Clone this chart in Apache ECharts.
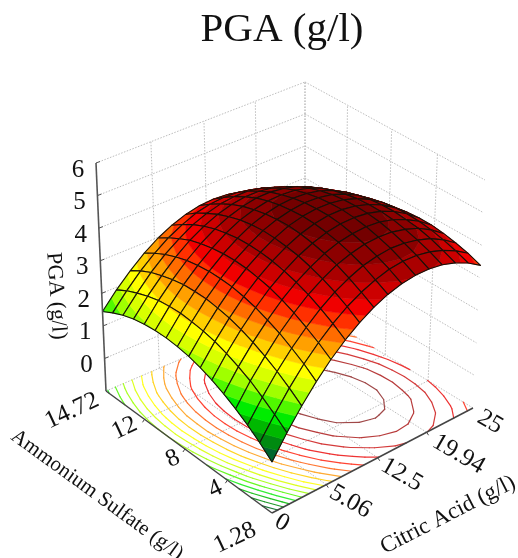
<!DOCTYPE html>
<html><head><meta charset="utf-8">
<style>html,body{margin:0;padding:0;background:#fff}#c{width:518px;height:558px}</style>
<script src="https://cdn.jsdelivr.net/npm/echarts@6/dist/echarts.min.js"></script>
</head><body><div id="c"></div>
<script>
const titleText = 'PGA (g/l)';
const zTitle = 'PGA (g/l)';
const xTitle = 'Citric Acid (g/l)';
const yTitle = 'Ammonium Sulfate (g/l)';
const citricTicks = ['0','5.06','12.5','19.94','25'];
const ammoniumTicks = ['1.28','4','8','12','14.72'];
const zTicks = [0,1,2,3,4,5,6];
const zMin = -1, zMax = 6;
// PGA read from the surface: rows = ammonium sulfate steps, columns = citric acid steps
const pga = [
[0.50,1.14,1.72,2.23,2.68,3.06,3.38,3.64,3.83,3.96,4.02,4.02,3.96,3.83,3.64,3.38],
[0.81,1.43,2.00,2.51,2.94,3.31,3.62,3.86,4.04,4.17,4.22,4.21,4.13,3.99,3.79,3.53],
[1.08,1.69,2.25,2.74,3.16,3.53,3.83,4.06,4.24,4.34,4.39,4.36,4.27,4.13,3.91,3.63],
[1.31,1.93,2.46,2.95,3.36,3.72,4.00,4.23,4.38,4.48,4.51,4.48,4.38,4.23,4.00,3.71],
[1.51,2.11,2.64,3.11,3.52,3.86,4.13,4.35,4.50,4.58,4.61,4.57,4.46,4.28,4.05,3.76],
[1.68,2.27,2.79,3.25,3.65,3.97,4.24,4.44,4.58,4.66,4.67,4.62,4.50,4.32,4.07,3.76],
[1.81,2.39,2.90,3.35,3.73,4.05,4.30,4.50,4.63,4.70,4.70,4.63,4.50,4.31,4.05,3.73],
[1.91,2.47,2.97,3.42,3.79,4.09,4.34,4.53,4.64,4.69,4.68,4.61,4.47,4.27,4.00,3.67],
[1.97,2.52,3.02,3.44,3.81,4.10,4.35,4.51,4.61,4.66,4.64,4.56,4.40,4.19,3.91,3.57],
[2.00,2.55,3.02,3.44,3.79,4.08,4.31,4.46,4.56,4.59,4.56,4.47,4.30,4.08,3.79,3.44],
[1.99,2.53,3.00,3.40,3.74,4.02,4.24,4.38,4.47,4.49,4.45,4.34,4.17,3.93,3.64,3.28],
[1.95,2.48,2.93,3.33,3.66,3.93,4.13,4.27,4.35,4.36,4.30,4.19,4.00,3.75,3.44,3.07],
[1.88,2.39,2.83,3.22,3.55,3.80,3.99,4.12,4.18,4.18,4.11,3.98,3.80,3.54,3.22,2.84],
[1.77,2.26,2.71,3.08,3.38,3.64,3.81,3.93,3.98,3.98,3.90,3.76,3.56,3.29,2.96,2.57],
[1.62,2.11,2.54,2.90,3.20,3.43,3.61,3.71,3.75,3.73,3.65,3.49,3.29,3.00,2.67,2.26],
[1.44,1.92,2.33,2.69,2.98,3.20,3.36,3.46,3.49,3.46,3.36,3.20,2.98,2.69,2.33,1.92]
];
const bandLevels = [0.75,1,1.25,1.5,1.75,2,2.25,2.5,2.75,3,3.25,3.5,3.75,4,4.25,4.5];
const bandColors = ['#00662e','#008a10','#00b800','#00ec00','#50f800','#a0ff00','#d8ff00','#ffff00','#ffd000','#ffa000','#ff6c00','#ff3000','#f00000','#cc0000','#aa0000','#8c0000','#740000'];

// view: screen corners of the plot box
const box = {
  F:[272,513], R:[473,408], L:[106,391], B:[305,306],
  Ft:[272,275], Rt:[485,180], Lt:[96,163], Bt:[305,82]
};
function quadMap(F,R,B,L){
  const dx1=R[0]-B[0],dy1=R[1]-B[1],dx2=L[0]-B[0],dy2=L[1]-B[1];
  const sx=F[0]-R[0]+B[0]-L[0],sy=F[1]-R[1]+B[1]-L[1];
  const det=dx1*dy2-dx2*dy1;
  const g=(sx*dy2-dx2*sy)/det,h=(dx1*sy-sx*dy1)/det;
  return (u,v)=>{
    const d=1+g*u+h*v;
    return [(F[0]+(R[0]-F[0]+g*R[0])*u+(L[0]-F[0]+h*L[0])*v)/d,
            (F[1]+(R[1]-F[1]+g*R[1])*u+(L[1]-F[1]+h*L[1])*v)/d];
  };
}
const floorMap=quadMap(box.F,box.R,box.B,box.L), topMap=quadMap(box.Ft,box.Rt,box.Bt,box.Lt);
function project(u,v,z){
  const w=(z-zMin)/(zMax-zMin);
  const a=floorMap(u,v),b=topMap(u,v);
  return [a[0]+(b[0]-a[0])*w,a[1]+(b[1]-a[1])*w];
}
const N=pga.length-1;
function bandOf(z){let k=0;while(k<bandLevels.length&&z>=bandLevels[k])k++;return k;}
function clip(poly,lo,hi){
  function cut(p,keep,lvl){
    const out=[];
    for(let a=0;a<p.length;a++){
      const P=p[a],Q=p[(a+1)%p.length],kp=keep(P[2]),kq=keep(Q[2]);
      if(kp)out.push(P);
      if(kp!==kq){const t=(lvl-P[2])/(Q[2]-P[2]);out.push([P[0]+(Q[0]-P[0])*t,P[1]+(Q[1]-P[1])*t,lvl]);}
    }
    return out;
  }
  let r=poly;
  if(lo>-Infinity)r=cut(r,z=>z>=lo,lo);
  if(r.length&&hi<Infinity)r=cut(r,z=>z<hi,hi);
  return r;
}
const cellItems=[];
for(let j=N-1;j>=0;j--)for(let i=N-1;i>=0;i--)cellItems.push([i,j]);
function renderCell(p,api){
  const i=api.value(0),j=api.value(1);
  const c=(ii,jj)=>[ii/N,jj/N,pga[jj][ii]];
  const poly=[c(i,j),c(i+1,j),c(i+1,j+1),c(i,j+1)];
  const kids=[];
  const zs=poly.map(q=>q[2]);
  const k0=bandOf(Math.min(...zs)),k1=bandOf(Math.max(...zs));
  const sc=q=>api.coord(project(q[0],q[1],q[2]));
  for(let k=k0;k<=k1;k++){
    const lo=k===0?-Infinity:bandLevels[k-1],hi=k===bandLevels.length?Infinity:bandLevels[k];
    const part=clip(poly,lo,hi);
    if(part.length<3)continue;
    kids.push({type:'polygon',shape:{points:part.map(sc)},style:{fill:bandColors[k],stroke:bandColors[k],lineWidth:0.6}});
  }
  kids.push({type:'polygon',shape:{points:poly.map(sc)},style:{fill:'none',stroke:'#161008',lineWidth:1.1,lineJoin:'round'}});
  return {type:'group',children:kids};
}
function contourSegs(level){
  const segs=[];
  for(let j=0;j<N;j++)for(let i=0;i<N;i++){
    const a=pga[j][i],b=pga[j][i+1],c=pga[j+1][i+1],d=pga[j+1][i];
    const pts=[];
    const e=(z0,z1,x0,y0,x1,y1)=>{if((z0<level)!==(z1<level)){const t=(level-z0)/(z1-z0);pts.push([(x0+(x1-x0)*t)/N,(y0+(y1-y0)*t)/N]);}};
    e(a,b,i,j,i+1,j);e(b,c,i+1,j,i+1,j+1);e(c,d,i+1,j+1,i,j+1);e(d,a,i,j+1,i,j);
    for(let q=0;q+1<pts.length;q+=2)segs.push([pts[q],pts[q+1]]);
  }
  return segs;
}
const floorColors=['#1d7a3a','#1f9a2a','#22c422','#33ee33','#66f822','#aaff22','#ddff22','#ffff22','#ffd422','#ffaa33','#ff7733','#ff4433','#ee3333','#d43b3b','#b83c3c','#a04848'];
function renderContour(p,api){
  const k=api.value(0);
  const col=floorColors[k];
  const segs=contourSegs(bandLevels[k]);
  return {type:'group',children:segs.map(s=>{
    const a=api.coord(project(s[0][0],s[0][1],zMin)),b=api.coord(project(s[1][0],s[1][1],zMin));
    return {type:'line',shape:{x1:a[0],y1:a[1],x2:b[0],y2:b[1]},style:{stroke:col,lineWidth:1.2,lineCap:'round'}};
  })};
}
function renderFrame(p,api){
  const kids=[];
  const dot=(a,b)=>{const A=api.coord(a),B=api.coord(b);kids.push({type:'line',shape:{x1:A[0],y1:A[1],x2:B[0],y2:B[1]},style:{stroke:'#bdbdbd',lineWidth:1,lineDash:[1.5,1.5]}});};
  zTicks.forEach(z=>{dot(project(0,1,z),project(1,1,z));dot(project(1,1,z),project(1,0,z));});
  for(let q=1;q<=4;q++){
    const t=q/4;
    dot(project(t,1,zMin),project(t,1,zMax));
    dot(project(1,t,zMin),project(1,t,zMax));
    if(q<4){dot(project(t,0,zMin),project(t,1,zMin));dot(project(0,t,zMin),project(1,t,zMin));}
  }
  dot(project(0,1,zMin),project(1,1,zMin));
  dot(project(1,1,zMin),project(1,0,zMin));
  return {type:'group',children:kids};
}
function renderAxes(p,api){
  const kids=[];
  const ln=(a,b,w,c)=>{const A=api.coord(a),B=api.coord(b);kids.push({type:'line',shape:{x1:A[0],y1:A[1],x2:B[0],y2:B[1]},style:{stroke:c,lineWidth:w}});};
  const tx=(s,at,rot,size)=>{const P=api.coord(at);kids.push({type:'text',x:P[0],y:P[1],rotation:rot*Math.PI/180,style:{text:s,font:size+'px "Liberation Serif"',fill:'#111',align:'center',verticalAlign:'middle'}});};
  ln(project(0,1,zMin),project(0,1,zMax),1.6,'#555');
  ln(project(0,0,zMin),project(0,1,zMin),1.5,'#444');
  ln(project(0,0,zMin),project(1,0,zMin),1.5,'#444');
  zTicks.forEach(z=>{const a=project(0,1,z);ln(a,[a[0]+4,a[1]-1.5],1,'#555');});
  for(let q=1;q<4;q++){
    const a=project(q/4,0,zMin);ln(a,[a[0]+2,a[1]+3],1,'#444');
    const b=project(0,q/4,zMin);ln(b,[b[0]-2,b[1]+3],1,'#444');
  }
  zTicks.forEach(z=>{const a=project(0,1,z);tx(String(z),[a[0]-18,a[1]+7],0,25);});
  const xOff=[[10,10],[24,17],[24,17],[32,22],[17,14]];
  citricTicks.forEach((s,q)=>{const a=project(q/4,0,zMin);tx(s,[a[0]+xOff[q][0],a[1]+xOff[q][1]],-30,25);});
  const yOff=[[-37,25],[-12,9],[-12,10],[-20,9],[-34,20]];
  ammoniumTicks.forEach((s,q)=>{const a=project(0,q/4,zMin);tx(s,[a[0]+yOff[q][0],a[1]+yOff[q][1]],25,25);});
  tx(zTitle,[56,296],-86,22);
  tx(xTitle,[448,515],27,23);
  tx(yTitle,[97,495],-36,21);
  return {type:'group',children:kids};
}
const one=[[0,0]];
const chart=echarts.init(document.getElementById('c'),null,{renderer:'canvas'});
chart.setOption({
  animation:false,
  backgroundColor:'#fff',
  title:{text:titleText,left:277,top:5,textAlign:'center',textStyle:{fontFamily:'Liberation Serif',fontSize:41,fontWeight:'normal',color:'#111'}},
  grid:{left:0,right:0,top:0,bottom:0},
  xAxis:{type:'value',min:0,max:518,show:false},
  yAxis:{type:'value',min:0,max:558,inverse:true,show:false},
  series:[
    {type:'custom',silent:true,coordinateSystem:'cartesian2d',data:one,renderItem:renderFrame,clip:false},
    {type:'custom',silent:true,coordinateSystem:'cartesian2d',data:bandLevels.map((l,k)=>[k,l]),renderItem:renderContour,clip:false},
    {type:'custom',silent:true,coordinateSystem:'cartesian2d',data:cellItems,renderItem:renderCell,clip:false},
    {type:'custom',silent:true,coordinateSystem:'cartesian2d',data:one,renderItem:renderAxes,clip:false}
  ]
});
</script></body></html>
